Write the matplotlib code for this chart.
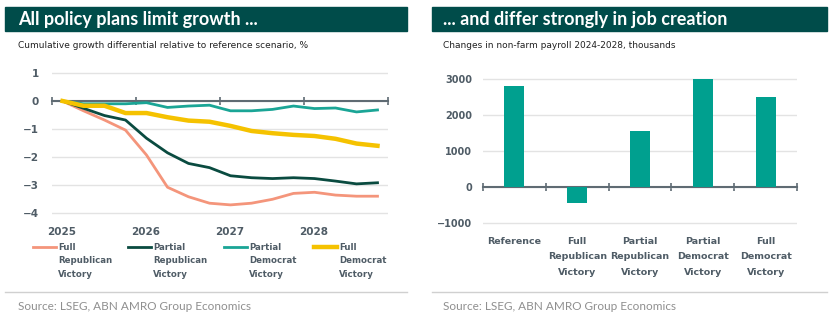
import numpy as np
import matplotlib.pyplot as plt
from matplotlib.patches import Rectangle
from matplotlib.lines import Line2D
from matplotlib.transforms import blended_transform_factory

plt.rcParams['font.family'] = ['Lato', 'DejaVu Sans']
BODY = ['DejaVu Sans']

# ---- data ----
# quarterly points, 2025Q1 .. 2028Q4
quarters = np.arange(16)
full_rep = [0, -0.35, -0.68, -1.04, -1.93, -3.08, -3.42, -3.65,
            -3.71, -3.65, -3.51, -3.30, -3.26, -3.36, -3.40, -3.40]
partial_rep = [0, -0.26, -0.52, -0.68, -1.33, -1.85, -2.23, -2.38,
               -2.67, -2.74, -2.77, -2.74, -2.77, -2.86, -2.96, -2.92]
partial_dem = [0, -0.10, -0.10, -0.10, -0.06, -0.23, -0.18, -0.15,
               -0.35, -0.35, -0.30, -0.18, -0.27, -0.25, -0.39, -0.32]
full_dem = [0, -0.17, -0.17, -0.43, -0.43, -0.58, -0.70, -0.74,
            -0.89, -1.07, -1.15, -1.21, -1.25, -1.35, -1.52, -1.60]
years = [2025, 2026, 2027, 2028]

line_labels = ["Full\nRepublican\nVictory", "Partial\nRepublican\nVictory",
               "Partial\nDemocrat\nVictory", "Full\nDemocrat\nVictory"]

bar_cats = ["Reference", "Full\nRepublican\nVictory", "Partial\nRepublican\nVictory",
            "Partial\nDemocrat\nVictory", "Full\nDemocrat\nVictory"]
payroll = [2800, -450, 1550, 3000, 2500]

# ---- styling ----
W, H = 836, 334
header_col = "#004C4A"
tick_col = "#4F5C66"
grid_col = "#E3E3E3"
axis_col = "#5F6B73"
colors = ["#F4957B", "#0A4B40", "#1AA596", "#F5C200"]
widths = [2, 2, 2, 3.2]
bar_col = "#00A08F"

fig = plt.figure(figsize=(W / 100, H / 100), dpi=100)


def fx(px):
    return px / W


def fy(py):
    return 1 - py / H


def add_axes(x0, x1, y0, y1):
    return fig.add_axes([fx(x0), fy(y1), fx(x1 - x0), (y1 - y0) / H])


def header(x0, x1, tx, title, sub, src_y=306):
    fig.patches.append(Rectangle((fx(x0), fy(31)), fx(x1 - x0), 24 / H,
                                 transform=fig.transFigure, color=header_col))
    fig.text(fx(tx), fy(19.5), title, color="white", fontsize=13,
             fontweight="bold", va="center")
    fig.text(fx(tx), fy(45), sub, color="#222222", fontsize=6.5,
             va="center", family=BODY)
    fig.add_artist(Line2D([fx(x0), fx(x1)], [fy(292), fy(292)],
                          color="#D0D0D0", lw=1))
    fig.text(fx(tx), fy(src_y), "Source: LSEG, ABN AMRO Group Economics",
             color="#8F8F8F", fontsize=8.5, va="center")


header(5, 407, 18, "All policy plans limit growth ...",
       "Cumulative growth differential relative to reference scenario, %")
header(432, 827, 443, "... and differ strongly in job creation",
       "Changes in non-farm payroll 2024-2028, thousands")


def style(ax, size, pad):
    for s in ["top", "right", "left"]:
        ax.spines[s].set_visible(False)
    ax.spines["bottom"].set_position(("data", 0))
    ax.spines["bottom"].set_color(axis_col)
    ax.spines["bottom"].set_linewidth(1.5)
    ax.spines["bottom"].set_zorder(1)
    ax.tick_params(axis="x", direction="inout", length=6, width=1.2,
                   color=axis_col, labelbottom=False)
    ax.tick_params(axis="y", length=0, labelsize=size, labelcolor=tick_col,
                   pad=pad)
    for t in ax.get_yticklabels():
        t.set_fontweight("bold")
        t.set_family(BODY)
    ax.grid(axis="y", color=grid_col, lw=1)
    ax.set_axisbelow(True)


# ---- left: lines ----
ax1 = add_axes(52, 388, 68.8, 220)
xq = 2025 + (quarters + 0.5) / 4
series = [full_rep, partial_rep, partial_dem, full_dem]
for vals, c, lw in zip(series, colors, widths):
    ax1.plot(xq, vals, color=c, lw=lw, zorder=3)
ax1.set_xlim(2025, 2029)
ax1.set_ylim(-4.25, 1.15)
ax1.set_yticks([1, 0, -1, -2, -3, -4])
ax1.set_xticks([2025, 2026, 2027, 2028, 2029])
style(ax1, 7.5, 9.5)
tr1 = blended_transform_factory(ax1.transData, fig.transFigure)
for y in years:
    ax1.text(y + 0.12, fy(232), str(y), ha="center", va="center",
             fontsize=7.5, fontweight="bold", color=tick_col,
             family=BODY, transform=tr1)

# manual legend (handle aligned with first text line)
leg_x = [33, 128, 224, 314]
for x0, lab, c, lw in zip(leg_x, line_labels, colors, widths):
    fig.add_artist(Line2D([fx(x0), fx(x0 + 23)], [fy(247), fy(247)],
                          color=c, lw=lw))
    fig.text(fx(x0 + 25), fy(242.5), lab, fontsize=6.2, color=tick_col,
             fontweight="bold", va="top", linespacing=1.65, family=BODY)

# ---- right: bars ----
ax2 = add_axes(483, 797, 70, 230.2)
xb = np.arange(len(bar_cats))
ax2.bar(xb, payroll, width=0.32, color=bar_col, zorder=3)
ax2.set_xlim(-0.5, len(bar_cats) - 0.5)
ax2.set_ylim(-1200, 3250)
ax2.set_yticks([3000, 2000, 1000, 0, -1000])
ax2.set_xticks(np.arange(len(bar_cats) + 1) - 0.5)
style(ax2, 7, 8)
tr2 = blended_transform_factory(ax2.transData, fig.transFigure)
for x, lab in zip(xb, bar_cats):
    ax2.text(x, fy(237), lab, ha="center", va="top", fontsize=6.8,
             fontweight="bold", color=tick_col, linespacing=1.9,
             family=BODY, transform=tr2)

fig.savefig("out.png", dpi=100)
